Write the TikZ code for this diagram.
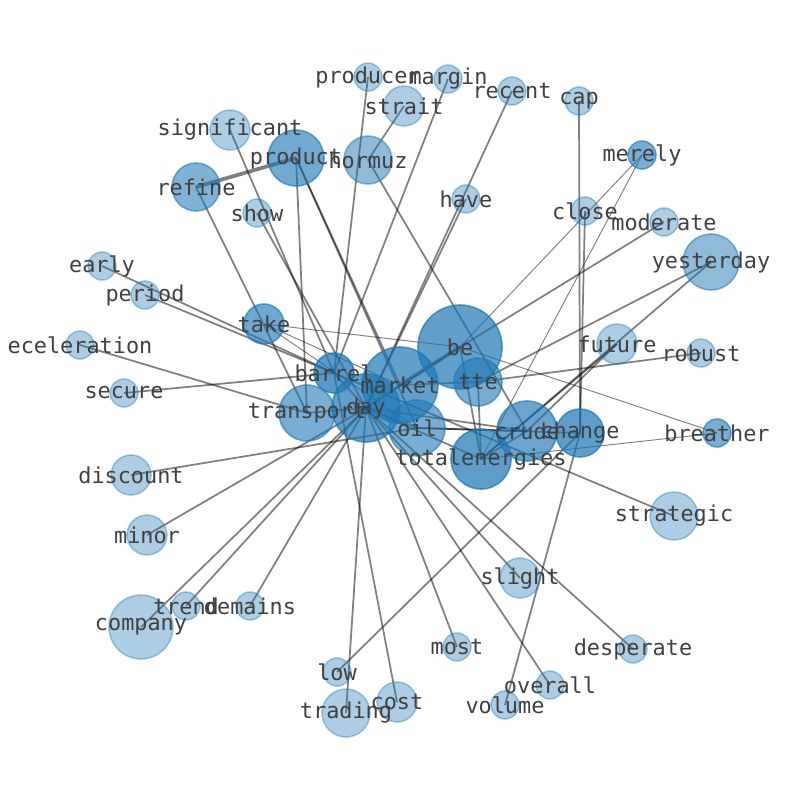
\documentclass[tikz,border=0pt]{standalone}
\usepackage{fontspec}
\setmonofont{DejaVu Sans Mono}
\pgfdeclarelayer{edges}
\pgfdeclarelayer{labels}
\pgfsetlayers{edges,main,labels}
\definecolor{nodeblue}{HTML}{1F77B4}
\definecolor{txt}{HTML}{404040}
\tikzset{
  gn/.style={circle, inner sep=0pt, outer sep=0pt, fill=nodeblue, draw=nodeblue, line width=1.2pt},
  lbl/.style={inner sep=0pt, text=txt, font=\ttfamily\fontsize{16.4}{18}\selectfont},
  ed/.style={draw=black, draw opacity=0.5, line width=1.3pt},
  edthin/.style={draw=black, draw opacity=0.5, line width=0.7pt},
  edthick/.style={draw=black, draw opacity=0.5, line width=2.8pt}
}
\begin{document}
\begin{tikzpicture}[x=0.75pt,y=-0.75pt]
\useasboundingbox (0,0) rectangle (794,790);
\foreach \n/\x/\y/\r/\a in {
producer/368/77/14/0.37, margin/448/79/14/0.37, strait/404/106/20/0.37,
recent/512/91/14/0.37, cap/579/101/14/0.37, significant/230/130/20/0.37,
product/296/158/28/0.63, hormuz/368/160/24/0.5, refine/196/187/24/0.57,
merely/642/155/14/0.6, show/257/213/14/0.37, have/466/199/14/0.37,
close/585/211/14/0.37, moderate/664/222/14/0.37, yesterday/711/262/28/0.5,
early/102/266/14/0.37, period/145/295/14/0.37, take/264/324/20/0.64,
eceleration/80/345/14/0.37, future/617/344/20/0.37, robust/701/353/14/0.37,
secure/124/393/14/0.37, breather/717/433/14/0.6, discount/131/475/20/0.37,
strategic/674/516/24/0.37, minor/147/535/20/0.37, slight/520/578/20/0.37,
company/141/627/32/0.37, trend/186/606/14/0.37, demains/250/606/14/0.37,
most/457/647/14/0.37, desperate/633/649/14/0.37, low/337/672/14/0.37,
overall/550/685/14/0.37, cost/397/702/20/0.37, trading/346/713/24/0.37,
volume/505/705/14/0.37,
be/460/347/42/0.7, tte/478/382/24/0.6, change/580/433/24/0.71,
crude/527/431/30/0.66, totalenergies/481/459/30/0.71, oil/417/428/28/0.6,
transport/307/413/28/0.6, barrel/334/373/20/0.74, market/400/385/38/0.7,
day/366/408/34/0.7}
{
  \node[gn, minimum size=\r*1.5pt, fill opacity=\a, draw opacity=\a] (\n) at (\x,\y) {};
  \begin{pgfonlayer}{labels}
    \node[lbl] (\n-t) at (\n.center) {\n};
  \end{pgfonlayer}
}
\begin{pgfonlayer}{edges}
\foreach \a/\b in {
refine/transport, significant/barrel, show/day, producer/barrel, margin/barrel,
strait/hormuz, hormuz/crude, product/transport, product/market, product/oil,
recent/day, have/day, cap/change, close/change, moderate/be,
yesterday/tte, yesterday/totalenergies, future/crude, future/totalenergies,
robust/tte, early/barrel, period/barrel, eceleration/transport, secure/barrel,
discount/oil, minor/day, company/day, trend/day, demains/day, low/change,
trading/day, cost/barrel, most/day, overall/day, desperate/day, slight/day,
barrel/strategic, be/day, be/totalenergies, tte/totalenergies, market/tte,
day/oil, day/crude, oil/crude, oil/change, day/transport, barrel/day,
market/day, totalenergies/crude, day/totalenergies, volume/change}
{ \draw[ed] (\a.center) -- (\b.center); }
\foreach \a/\b in {merely/be, merely/totalenergies, be/breather,
breather/totalenergies, take/be, take/market, take/oil}
{ \draw[edthin] (\a.center) -- (\b.center); }
\draw[edthick] (refine.center) -- (product.center);
\draw[edthick] (be.center) -- (market.center);
\end{pgfonlayer}
\end{tikzpicture}
\end{document}
